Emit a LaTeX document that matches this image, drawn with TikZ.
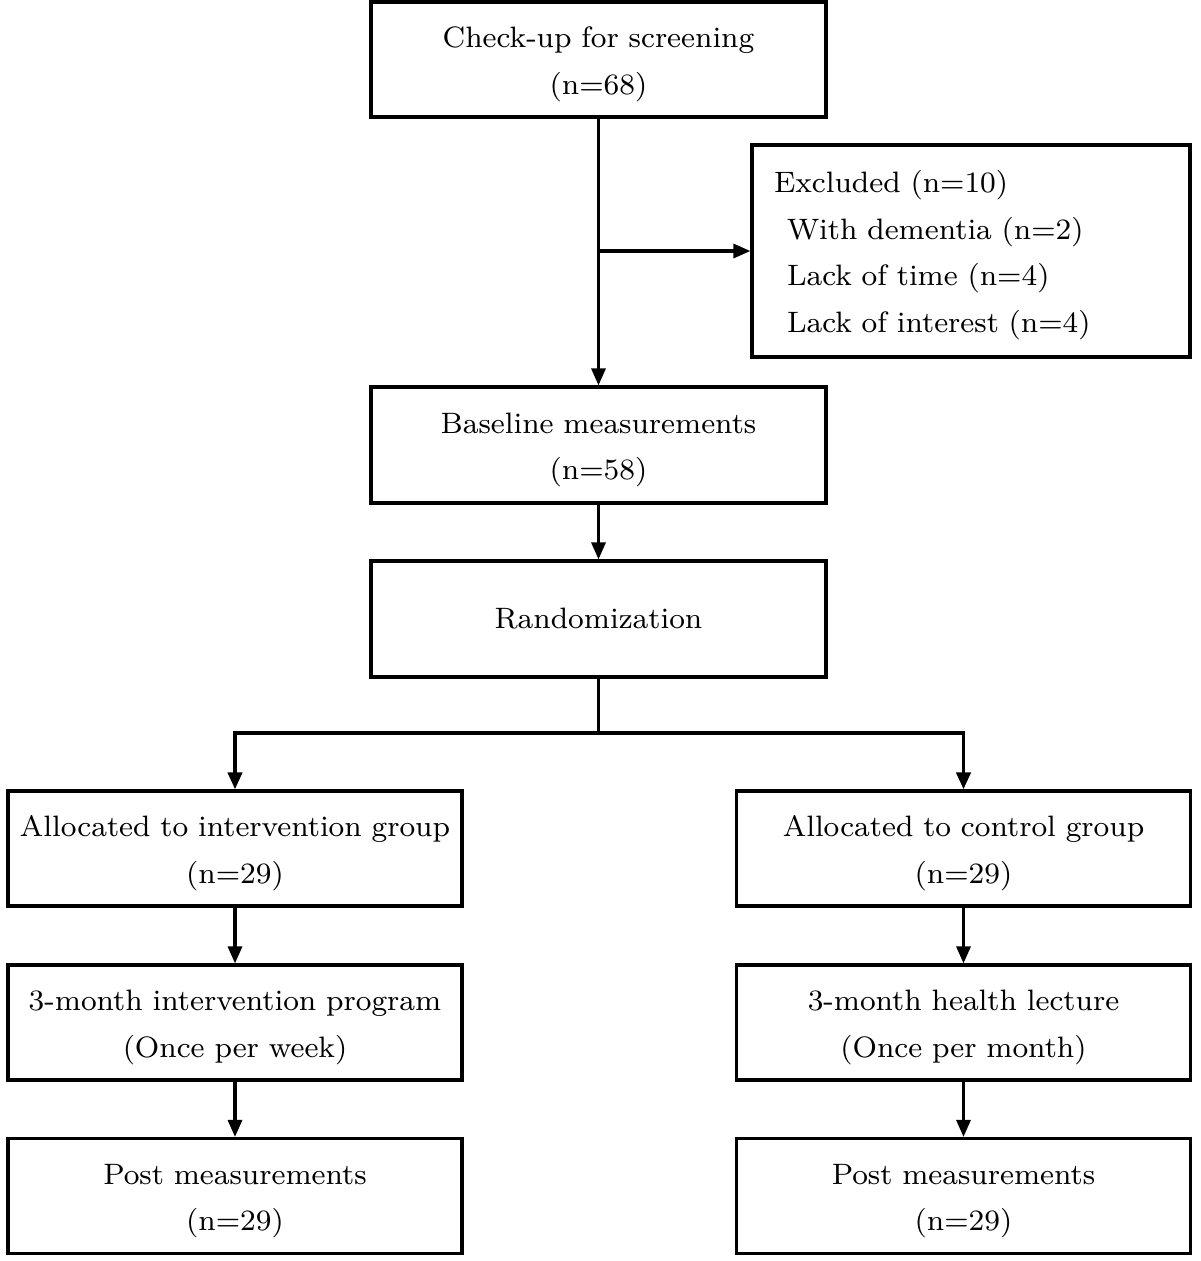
\documentclass[tikz,border=0pt]{standalone}
\usepackage{tikz}
\usetikzlibrary{arrows.meta}

\begin{document}
\begin{tikzpicture}[>={Triangle[length=0.17cm,width=0.14cm]},
    plainbox/.style={draw, line width=0.9pt, inner xsep=0pt, text width=4.55cm,
        minimum height=1.16cm, align=center,
        font=\fontsize{8.4pt}{13.3pt}\selectfont},
    box/.style={plainbox, execute at begin node={\rule{0pt}{8.6pt}}},
    sidebox/.style={box, text width=4.54cm, minimum height=1.15cm},
    flow/.style={->, line width=0.9pt}]

    % Frame
    \useasboundingbox (0,-12.61) rectangle (12,0);

    % MIDDLE COLUMN
    \node[box, minimum height=1.15cm] (check) at (5.985,-0.595) {Check-up for screening\\(n=68)};
    \node[box] (base) at (5.985,-4.45) {Baseline measurements\\(n=58)};
    \node[plainbox] (rand) at (5.985,-6.19) {Randomization};

    % Excluded box
    \node[draw, line width=0.9pt, minimum height=2.12cm,
        text width=3.94cm, inner xsep=0.22cm, align=left,
        execute at begin node={\rule{0pt}{8.6pt}},
        font=\fontsize{8.4pt}{13.3pt}\selectfont] (excl) at (9.71,-2.51)
        {Excluded (n=10)\\
        \hspace*{0.13cm}With dementia (n=2)\\
        \hspace*{0.13cm}Lack of time (n=4)\\
        \hspace*{0.13cm}Lack of interest (n=4)};

    % LEFT COLUMN
    \node[sidebox] (alloc1) at (2.35,-8.485) {Allocated to intervention group\\(n=29)};
    \node[sidebox] (prog1) at (2.35,-10.225) {3-month intervention program\\(Once per week)};
    \node[sidebox] (post1) at (2.35,-11.96) {Post measurements\\(n=29)};

    % RIGHT COLUMN
    \node[sidebox] (alloc2) at (9.635,-8.485) {Allocated to control group\\(n=29)};
    \node[sidebox] (prog2) at (9.635,-10.225) {3-month health lecture\\(Once per month)};
    \node[sidebox] (post2) at (9.635,-11.96) {Post measurements\\(n=29)};

    % Arrows
    \draw[flow] (check) -- (base);
    \coordinate (branch) at (check.south |- excl.west);
    \draw[flow] (branch) -- (excl.west);
    \draw[flow] (base) -- (rand);

    % Split after randomization
    \coordinate (split) at (5.985,-7.33);
    \draw[line width=0.6pt] (rand.south) -- (split);
    \draw[flow, line width=1.1pt] (split) -| (alloc1.north);
    \draw[flow, line width=1.1pt] (split) -| (alloc2.north);

    \draw[flow] (alloc1) -- (prog1);
    \draw[flow] (prog1) -- (post1);
    \draw[flow] (alloc2) -- (prog2);
    \draw[flow] (prog2) -- (post2);

\end{tikzpicture}
\end{document}
